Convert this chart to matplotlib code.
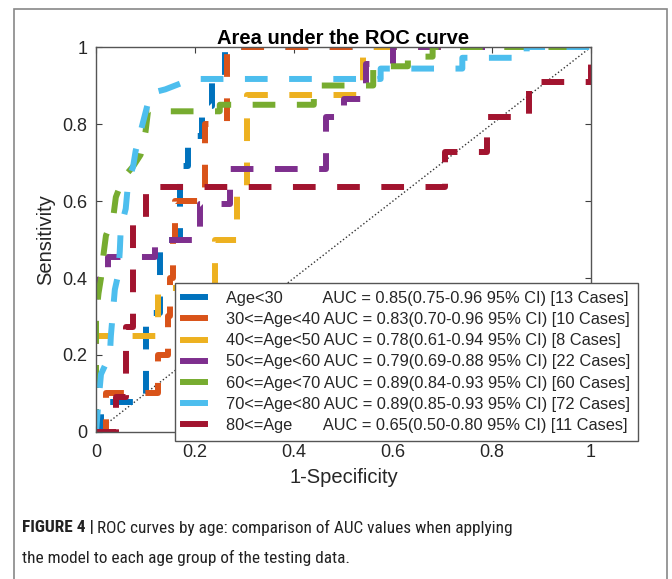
import matplotlib
matplotlib.use('Agg')
import matplotlib.pyplot as plt
from matplotlib import font_manager
from matplotlib.patches import Rectangle

plt.rcParams['font.family'] = ['Liberation Sans', 'DejaVu Sans']

# 数据
labels = ['Age<30        ', '30<=Age<40', '40<=Age<50', '50<=Age<60',
          '60<=Age<70', '70<=Age<80', '80<=Age      ']
auc_text = ['AUC = 0.85(0.75-0.96 95% CI) [13 Cases]',
            'AUC = 0.83(0.70-0.96 95% CI) [10 Cases]',
            'AUC = 0.78(0.61-0.94 95% CI) [8 Cases]',
            'AUC = 0.79(0.69-0.88 95% CI) [22 Cases]',
            'AUC = 0.89(0.84-0.93 95% CI) [60 Cases]',
            'AUC = 0.89(0.85-0.93 95% CI) [72 Cases]',
            'AUC = 0.65(0.50-0.80 95% CI) [11 Cases]']
colors = ['#0072BD', '#D95319', '#EDB120', '#7E2F8E', '#77AC30', '#4DBEEE', '#A2142F']

fpr_30 = [0, 0.01, 0.01, 0.1, 0.1, 0.13, 0.13, 0.17, 0.17, 0.185, 0.185, 0.215, 0.215, 0.235, 0.235, 0.26, 0.26, 1.0]
tpr_30 = [0, 0, 0.077, 0.077, 0.308, 0.308, 0.5, 0.5, 0.692, 0.692, 0.769, 0.769, 0.846, 0.846, 0.923, 0.923, 1.0, 1.0]

fpr_40 = [0, 0.02, 0.02, 0.125, 0.125, 0.145, 0.145, 0.15, 0.15, 0.155, 0.155, 0.16, 0.16, 0.22, 0.22, 0.265, 0.265, 1.0]
tpr_40 = [0, 0, 0.1, 0.1, 0.2, 0.2, 0.3, 0.3, 0.4, 0.4, 0.5, 0.5, 0.6, 0.6, 0.8, 0.8, 1.0, 1.0]

fpr_50 = [0, 0, 0.125, 0.125, 0.24, 0.24, 0.285, 0.285, 0.305, 0.305, 0.54, 0.54, 1.0]
tpr_50 = [0, 0.25, 0.25, 0.375, 0.375, 0.5, 0.5, 0.625, 0.625, 0.875, 0.875, 1.0, 1.0]

fpr_60 = [0, 0, 0.025, 0.025, 0.12, 0.12, 0.21, 0.21, 0.27, 0.27, 0.465, 0.465, 0.5, 0.5, 0.545, 0.545, 0.6, 0.6, 1.0]
tpr_60 = [0, 0.409, 0.409, 0.455, 0.455, 0.5, 0.5, 0.591, 0.591, 0.682, 0.682, 0.818, 0.818, 0.864, 0.864, 0.955, 0.955, 1.0, 1.0]

fpr_70 = [0, 0, 0.005, 0.01, 0.015, 0.02, 0.035, 0.04, 0.055, 0.075, 0.09, 0.1, 0.105, 0.25, 0.25, 0.44, 0.44, 0.56, 0.56, 0.63, 0.63, 0.68, 0.68, 1.0]
tpr_70 = [0, 0.3, 0.36, 0.4, 0.46, 0.51, 0.56, 0.61, 0.66, 0.69, 0.72, 0.78, 0.833, 0.833, 0.85, 0.85, 0.9, 0.9, 0.95, 0.95, 0.975, 0.975, 1.0, 1.0]

fpr_80 = [0, 0.005, 0.01, 0.028, 0.03, 0.034, 0.038, 0.045, 0.048, 0.05, 0.06, 0.065, 0.075, 0.08, 0.09, 0.1, 0.11, 0.14, 0.18, 0.2, 0.575, 0.575, 0.74, 0.74, 0.87, 0.87, 1.0]
tpr_80 = [0, 0.08, 0.15, 0.2, 0.25, 0.31, 0.37, 0.41, 0.47, 0.53, 0.58, 0.65, 0.69, 0.73, 0.78, 0.83, 0.88, 0.89, 0.91, 0.917, 0.917, 0.944, 0.944, 0.972, 0.972, 1.0, 1.0]

fpr_old = [0, 0.04, 0.04, 0.06, 0.06, 0.075, 0.075, 0.1, 0.1, 0.705, 0.705, 0.79, 0.79, 0.875, 0.875, 1.0, 1.0]
tpr_old = [0, 0, 0.091, 0.091, 0.273, 0.273, 0.545, 0.545, 0.636, 0.636, 0.727, 0.727, 0.818, 0.818, 0.909, 0.909, 1.0]

curves = [(fpr_30, tpr_30), (fpr_40, tpr_40), (fpr_50, tpr_50), (fpr_60, tpr_60),
          (fpr_70, tpr_70), (fpr_80, tpr_80), (fpr_old, tpr_old)]

caption_bold = 'FIGURE 4 |'
caption_1 = 'ROC curves by age: comparison of AUC values when applying'
caption_2 = 'the model to each age group of the testing data.'

fig = plt.figure(figsize=(6.72, 5.79), dpi=100)
ax = fig.add_axes([0.1429, 0.2539, 0.7366, 0.6649])

# 对角线
ax.plot([0, 1], [0, 1], ':', color='#333333', lw=1.0)

for (fx, ty), c, lab, auc in zip(curves, colors, labels, auc_text):
    ax.plot(fx, ty, '--', color=c, lw=4.3, dashes=(3.8, 3.6),
            label=lab + ' ' + auc)

ax.set_xlim(0, 1)
ax.set_ylim(0, 1)
ax.set_xticks([0, 0.2, 0.4, 0.6, 0.8, 1])
ax.set_xticklabels(['0', '0.2', '0.4', '0.6', '0.8', '1'])
ax.set_yticks([0, 0.2, 0.4, 0.6, 0.8, 1])
ax.set_yticklabels(['0', '0.2', '0.4', '0.6', '0.8', '1'])
ax.tick_params(direction='in', top=True, right=True, length=4, width=0.8,
               colors='#404040', labelsize=13, labelcolor='#262626')
ax.tick_params(axis='x', pad=9)
ax.tick_params(axis='y', pad=6)
for s in ax.spines.values():
    s.set_color('#555555')
    s.set_linewidth(1.0)

ax.set_title('Area under the ROC curve', fontsize=14.5, fontweight='bold', pad=2)
ax.set_xlabel('1-Specificity', fontsize=14.5, color='#262626', labelpad=5)
ax.set_ylabel('Sensitivity', fontsize=14.5, color='#262626', labelpad=5)

leg = ax.legend(loc='upper left', bbox_to_anchor=(0.16, 0.388), borderaxespad=0,
                fontsize=11.8, handlelength=1.3, handletextpad=1.3,
                labelspacing=0.38, fancybox=False, framealpha=1,
                edgecolor='#555555', borderpad=0.5)
for line in leg.get_lines():
    line.set_linestyle('-')
    line.set_linewidth(4.3)
for t in leg.get_texts():
    t.set_color('#262626')

# 外框
fig.patches.append(Rectangle((14 / 672, -0.05), (667 - 14) / 672, 1.05 - 9 / 579,
                             transform=fig.transFigure, fill=False,
                             edgecolor='#888888', lw=1.2))

# 图注 (窄字体)
names = {f.name for f in font_manager.fontManager.ttflist}
cap_font = 'Roboto'
for cand in ['Liberation Sans Narrow', 'Roboto Condensed', 'DejaVu Sans Condensed']:
    if cand in names:
        cap_font = cand
        break

cap_size = 12.0
probe = fig.text(0, 0, caption_bold + ' ' + caption_1, fontsize=cap_size,
                 family=cap_font)
fig.canvas.draw()
w = probe.get_window_extent().width
probe.remove()
cap_size = cap_size * 458 / w * 1.07

t1 = fig.text(22 / 672, 1 - 528 / 579, caption_bold, fontsize=cap_size,
              fontweight='bold', family=cap_font, va='center', color='#222222')
fig.canvas.draw()
bb = t1.get_window_extent()
fig.text((bb.x1 + 3) / 672, 1 - 528 / 579, caption_1,
         fontsize=cap_size, family=cap_font, va='center', color='#222222')
fig.text(22 / 672, 1 - 558 / 579, caption_2,
         fontsize=cap_size, family=cap_font, va='center', color='#222222')

plt.savefig('out.png', dpi=100)
